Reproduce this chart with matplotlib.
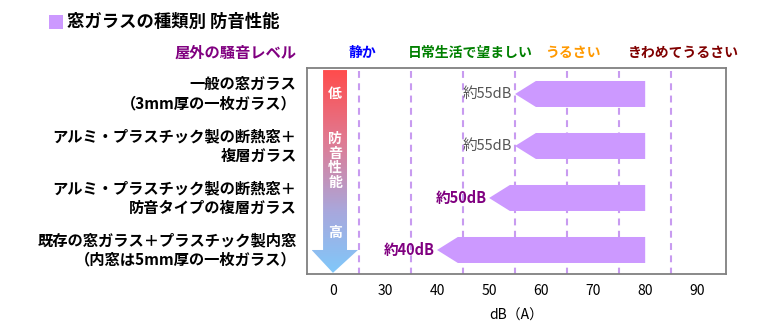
import numpy as np
import matplotlib.pyplot as plt
from matplotlib.patches import Polygon, Rectangle
from matplotlib.colors import LinearSegmentedColormap
from matplotlib.transforms import blended_transform_factory

plt.rcParams['font.family'] = ['Noto Sans CJK JP', 'DejaVu Sans']

# 窓ガラスの種類と屋外騒音の低減後レベル
glass_types = [
    "一般の窓ガラス\n（3mm厚の一枚ガラス）",
    "アルミ・プラスチック製の断熱窓＋\n複層ガラス",
    "アルミ・プラスチック製の断熱窓＋\n防音タイプの複層ガラス",
    "既存の窓ガラス＋プラスチック製内窓\n（内窓は5mm厚の一枚ガラス）",
]
noise_db = [55, 55, 50, 40]
outdoor_db = 80

tick_db = [0, 30, 40, 50, 60, 70, 80, 90]
grid_db = [25, 35, 45, 55, 65, 75, 85]

levels = ["静か", "日常生活で望ましい", "うるさい", "きわめてうるさい"]
level_db = [25.6, 46.3, 66, 87.3]
level_colors = ["#0000FF", "#008000", "#FF9900", "#800000"]

value_colors = ["#555555", "#555555", "#800080", "#800080"]
value_weights = ["normal", "normal", "bold", "bold"]

bar_color = "#CC99FF"


def to_pos(db):
    # 0 の後は 30 から 10dB 刻みの軸
    db = np.asarray(db, dtype=float)
    return np.where(db == 0, 0.0, (db - 20) / 10)


fig = plt.figure(figsize=(7.83, 3.3), dpi=100)
ax = fig.add_axes([0.392, 0.170, 0.535, 0.624])
ax.set_xlim(-0.5, 7.55)
ax.set_ylim(3.46, -0.5)

# 区切りの破線
for g in to_pos(grid_db):
    ax.plot([g, g], [-0.45, 3.46], color="#C89BF0", lw=1.5,
            dashes=(3.3, 2.6), zorder=1)

# 防音性能の矢印（グラデーション）
arrow_pts = [(-0.19, -0.46), (0.27, -0.46), (0.27, 3.0), (0.48, 3.0),
             (0.0, 3.44), (-0.41, 3.0), (-0.19, 3.0)]
arrow = Polygon(arrow_pts, closed=True, facecolor="none", edgecolor="none")
ax.add_patch(arrow)
cmap = LinearSegmentedColormap.from_list(
    "grad", [(0.0, "#FF4C4C"), (0.35, "#E07A92"), (0.7, "#A8A8DD"), (1.0, "#80C8FA")])
grad = np.linspace(0, 1, 256).reshape(-1, 1)
img = ax.imshow(grad, cmap=cmap, extent=(-0.41, 0.48, 3.44, -0.46),
                aspect="auto", zorder=2)
img.set_clip_path(arrow)
ax.text(0.04, 0.0, "低", color="white", fontsize=10, fontweight="bold",
        ha="center", va="center", zorder=3)
ax.text(0.04, 1.29, "防\n音\n性\n能", color="white", fontsize=10, fontweight="bold",
        ha="center", va="center", linespacing=1.05, zorder=3)
ax.text(0.04, 2.67, "高", color="white", fontsize=10, fontweight="bold",
        ha="center", va="center", zorder=3)

# 騒音レベルの矢印バー
half = 0.25
head = 0.4
for i, db in enumerate(noise_db):
    tip = float(to_pos(db))
    end = float(to_pos(outdoor_db))
    pts = [(tip, i), (tip + head, i - half), (end, i - half),
           (end, i + half), (tip + head, i + half)]
    ax.add_patch(Polygon(pts, closed=True, facecolor=bar_color,
                         edgecolor="none", zorder=2))
    ax.text(tip - 0.05, i, f"約{db}dB", color=value_colors[i],
            fontweight=value_weights[i], fontsize=10.5,
            ha="right", va="center", zorder=3)

ax.set_xticks(to_pos(tick_db))
ax.set_xticklabels([str(t) for t in tick_db], fontsize=10)
ax.tick_params(axis="x", length=0, pad=7)
ax.set_yticks([])
ax.set_xlabel("dB（A）", fontsize=10, labelpad=8)
for s in ax.spines.values():
    s.set_color("#808080")
    s.set_linewidth(1.3)

# 左側の項目名
for i, name in enumerate(glass_types):
    ax.text(-0.7, i, name, ha="right", va="center",
            multialignment="right", fontsize=11, fontweight="bold",
            linespacing=1.3, color="black")

# 騒音レベルの見出し
trans = blended_transform_factory(ax.transData, ax.transAxes)
for name, db, c in zip(levels, level_db, level_colors):
    ax.text(float(to_pos(db)), 1.073, name, transform=trans, ha="center",
            va="center", fontsize=10, fontweight="bold", color=c)
fig.text(297 / 783, 1 - 53 / 330, "屋外の騒音レベル", ha="right", va="center",
         fontsize=11, fontweight="bold", color="#800080")

# タイトル
fig.patches.append(Rectangle((49 / 783, 1 - 29 / 330), 14 / 783, 14 / 330,
                             transform=fig.transFigure, facecolor=bar_color,
                             edgecolor="none"))
fig.text(67 / 783, 1 - 22 / 330, "窓ガラスの種類別 防音性能", ha="left",
         va="center", fontsize=12.5, fontweight="bold", color="black")

fig.savefig("out.png", dpi=100)
